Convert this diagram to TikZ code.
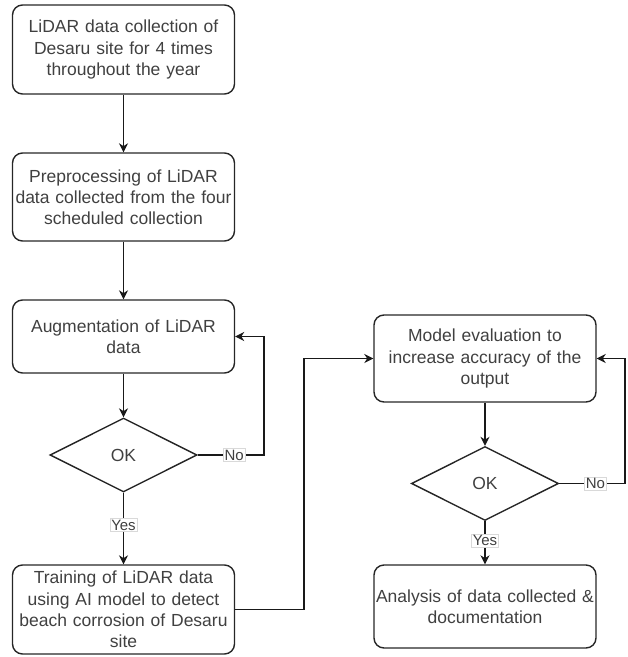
\documentclass[tikz,border=0pt]{standalone}
\usepackage{fontspec}
\setmainfont{Liberation Sans}
\usetikzlibrary{shapes.geometric,arrows.meta}
\begin{document}
\begin{tikzpicture}[x=1pt,y=-1pt,
  every node/.style={text=black!75},
  procbox/.style={draw=black!85,line width=1.4pt,rounded corners=10pt,minimum width=222pt,text width=220pt,align=center,inner sep=0pt,font=\fontsize{17.5}{21.2}\selectfont},
  decision/.style={draw=black!85,line width=1.4pt,diamond,aspect=2,inner sep=0pt,minimum width=147pt,minimum height=74pt,font=\fontsize{17.5}{21}\selectfont},
  conn/.style={draw=black!90,line width=1.4pt},
  arr/.style={conn,-{Stealth[length=9pt,width=9pt]}},
  lbl/.style={fill=white,draw=black!15,line width=0.4pt,inner sep=1.2pt,font=\fontsize{15}{17}\selectfont}]
\useasboundingbox (0,0) rectangle (628,657);
\node[procbox,minimum height=89pt] (b1) at (123.5,49.5) {LiDAR data collection of\\Desaru site for 4 times\\throughout the year};
\node[procbox,minimum height=88pt] (b2) at (123.5,197) {Preprocessing of LiDAR\\data collected from the four\\scheduled collection};
\node[procbox,minimum height=73pt] (b3) at (123.5,336.5) {Augmentation of LiDAR\\data};
\node[decision] (d1) at (123.5,455) {OK};
\node[procbox,minimum height=89pt] (b4) at (123.5,609.5) {Training of LiDAR data\\using AI model to detect\\beach corrosion of Desaru\\site};
\node[procbox,minimum height=87pt] (b5) at (485,358.5) {Model evaluation to\\increase accuracy of the\\output};
\node[decision] (d2) at (485,483.5) {OK};
\node[procbox,minimum height=83pt] (b6) at (485,606.5) {Analysis of data collected \&\\documentation};
\coordinate (n1) at (264,455);
\coordinate (n2) at (625,483.5);
\coordinate (t1) at (304,609.5);
\draw[arr] (b1) -- (b2);
\draw[arr] (b2) -- (b3);
\draw[arr] (b3) -- (d1);
\draw[arr] (d1) -- node[lbl,pos=0.45] {Yes} (b4);
\draw[arr] (d1.east) -- node[lbl,pos=0.55] {No} (n1) |- (b3.east);
\draw[arr] (b4.east) -- (t1) |- (b5.west);
\draw[arr] (b5) -- (d2);
\draw[arr] (d2) -- node[lbl,pos=0.45] {Yes} (b6);
\draw[arr] (d2.east) -- node[lbl,pos=0.55] {No} (n2) |- (b5.east);
\end{tikzpicture}
\end{document}
